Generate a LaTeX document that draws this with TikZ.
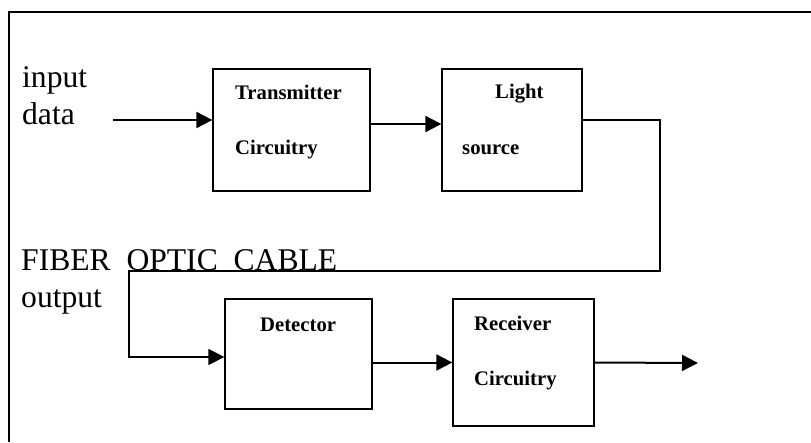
\documentclass[tikz,border=0pt]{standalone}
\usepackage{fontspec}
\setmainfont{Liberation Serif}
\usetikzlibrary{calc, arrows.meta}

\tikzset{
  box/.style={draw, line width=1.3pt, inner sep=0pt},
  arr/.style={line width=2pt, -{Triangle[length=16pt,width=16pt]}},
  lbl/.style={anchor=base west, inner sep=0pt, font=\fontsize{20.7}{24}\selectfont\bfseries},
  big/.style={anchor=base west, inner sep=0pt, font=\fontsize{31.6}{36}\selectfont}
}

\begin{document}
\begin{tikzpicture}[x=1pt, y=-1pt]
\useasboundingbox (0,0) rectangle (811,442);
\draw[line width=1.3pt] (9,442) -- (9,12) -- (811,12);
% blocks
\node[box, minimum width=157pt, minimum height=122pt] (trans) at (291.5,130) {};
\node[box, minimum width=140pt, minimum height=122pt] (light) at (512,130) {};
\node[box, minimum width=147pt, minimum height=110pt] (det) at (298.5,354) {};
\node[box, minimum width=141pt, minimum height=127pt] (recv) at (523.5,362.5) {};
\node[lbl] (transa) at (235,99) {Transmitter};
\node[lbl] (transb) at (235,154) {Circuitry};
\node[lbl] (lighta) at (495,98) {Light};
\node[lbl] (lightb) at (462,154) {source};
\node[lbl] (deta) at (260,331) {Detector};
\node[lbl] (recva) at (474,330) {Receiver};
\node[lbl] (recvb) at (474,385) {Circuitry};
\node[big] (inp) at (22,87) {input};
\node[big] (dat) at (22,124) {data};
\node[big] (fib) at (21,270) {FIBER\ \ OPTIC\ \ CABLE};
\node[big] (outp) at (21,307) {output};
% links
\coordinate (in) at (113,120);
\coordinate (fr) at (660,271);
\coordinate (fl) at (129,271);
\coordinate (out) at (698,363);
\draw[arr] (in) -- (in -| trans.west);
\draw[arr] ([yshift=6pt]trans.east) -- ([yshift=6pt]light.west);
\draw[line width=1.4pt, -{Triangle[length=16pt,width=16pt]}] ([yshift=10pt]light.east) -| (fr) -- (fl) |- ([yshift=-3pt]det.west);
\draw[arr] (recv.west -| det.east) -- (recv.west);
\draw[arr] (recv.east) -- (out);
\end{tikzpicture}
\end{document}
